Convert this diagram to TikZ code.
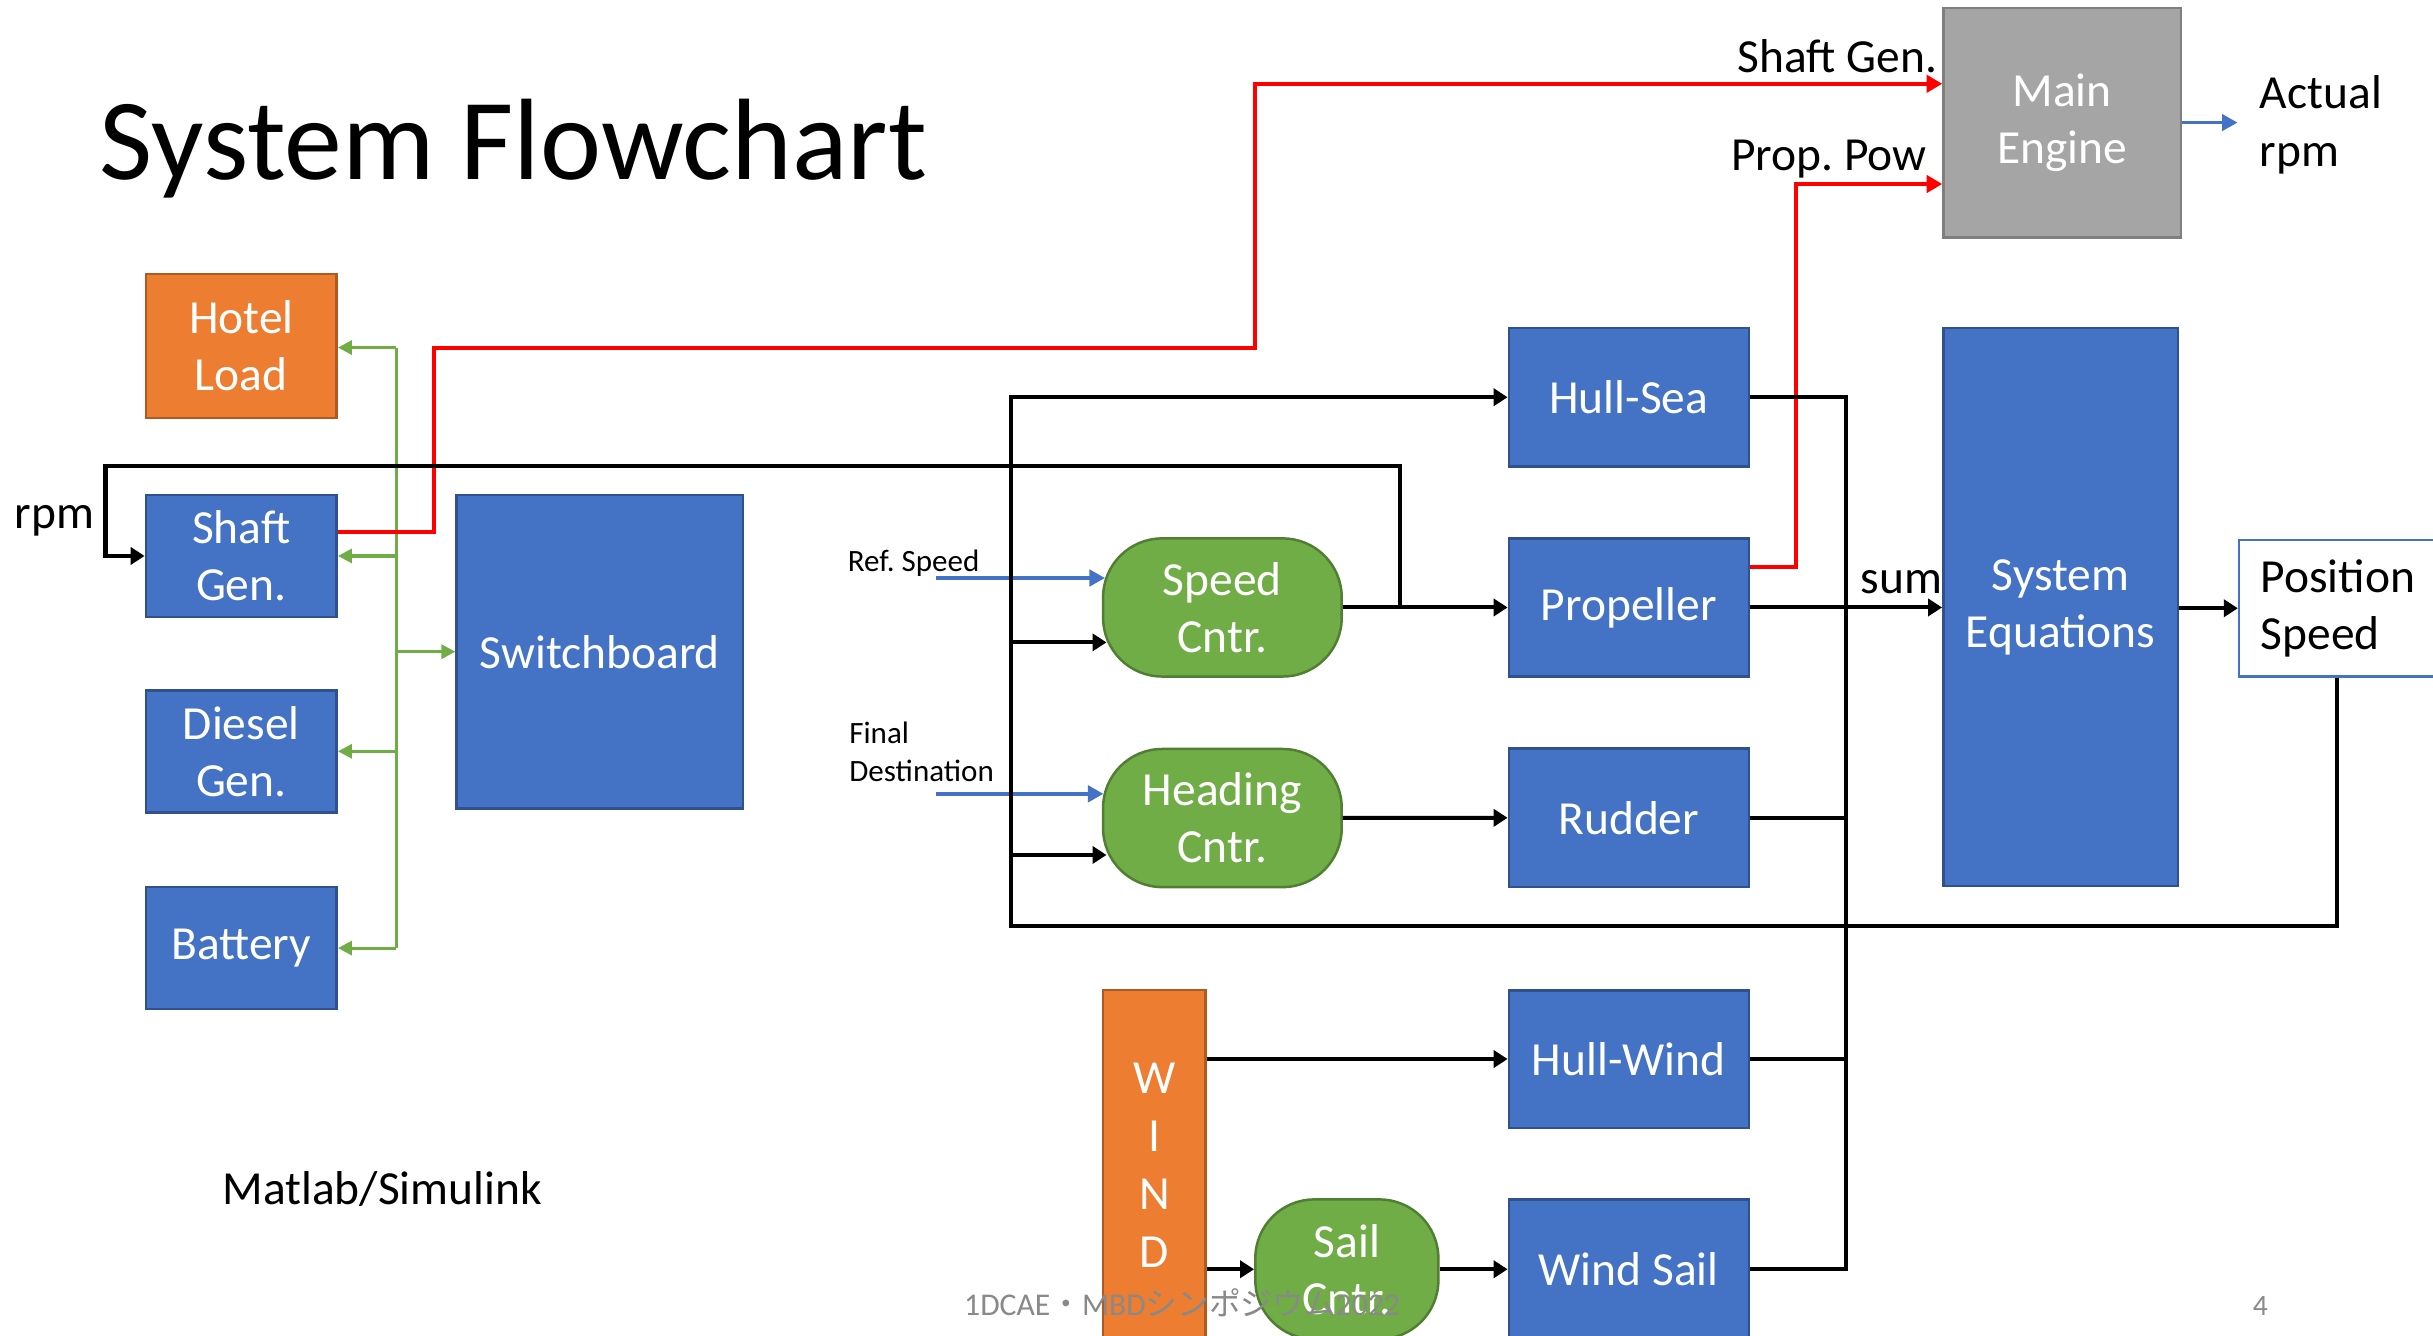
\documentclass[tikz,border=0pt]{standalone}
\usepackage{fontspec}
\setmainfont{Carlito}
\newfontfamily\jpfont{Noto Sans CJK JP}
\usepackage{tikz}
\usetikzlibrary{arrows.meta,calc}

\definecolor{blkblue}{HTML}{4472C4}
\definecolor{blkblueline}{HTML}{2F528F}
\definecolor{blkorange}{HTML}{ED7D31}
\definecolor{blkorangeline}{HTML}{AE5A21}
\definecolor{blkgreen}{HTML}{70AD47}
\definecolor{blkgreenline}{HTML}{507E32}
\definecolor{blkgray}{HTML}{A5A5A5}
\definecolor{blkgrayline}{HTML}{7F7F7F}
\definecolor{footgray}{HTML}{898989}

\begin{document}
\begin{tikzpicture}[x=0.5pt,y=0.5pt,yscale=-1,xscale=1,
    txt/.style={font=\fontsize{15.3pt}{18.4pt}\selectfont},
    smalltxt/.style={font=\fontsize{10pt}{12.25pt}\selectfont},
    blkbox/.style={txt, draw=blkblueline, fill=blkblue, line width=0.8pt, text=white, align=center, inner sep=0pt},
    orbox/.style={blkbox, draw=blkorangeline, fill=blkorange},
    graybox/.style={blkbox, draw=blkgrayline, fill=blkgray},
    cntrbox/.style={blkbox, draw=blkgreenline, fill=blkgreen, rounded corners=19pt},
    wire/.style={line width=1.3pt},
    arr/.style={wire, -{Triangle[length=4.5pt,width=5.5pt]}},
    rarr/.style={line width=1.3pt, red, -{Triangle[length=5pt,width=5.5pt]}},
    gwire/.style={line width=1pt, blkgreen},
    garr/.style={gwire, -{Triangle[length=4.5pt,width=4.5pt]}},
    barr/.style={line width=1.1pt, blkblue, -{Triangle[length=5pt,width=5.3pt]}}]

\useasboundingbox (0,0) rectangle (1568,861);
\clip (0,0) rectangle (1568,861);

% Text Node
\draw (64,115.6) node [anchor=base west, inner sep=0pt, font=\fontsize{37.3pt}{44pt}\selectfont] (title) {System Flowchart};

%Shape: Rectangle (power side)
\draw (155.5,223) node [orbox, minimum width=61.5pt, minimum height=46.5pt] (hotel) {Hotel\\Load};
\draw (155.5,358.3) node [blkbox, minimum width=61.5pt, minimum height=39.3pt] (shaft) {Shaft\\Gen.};
\draw (155.5,484.2) node [blkbox, minimum width=61.5pt, minimum height=39.3pt] (diesel) {Diesel\\Gen.};
\draw (155.5,611) node [blkbox, minimum width=61.5pt, minimum height=39.3pt] (battery) {Battery};
\draw (386.6,420) node [blkbox, minimum width=92.3pt, minimum height=101pt] (switchb) {Switchboard};

%Shape: Rectangle (engine)
\draw (1329,79) node [graybox, minimum width=76.5pt, minimum height=74pt] (me) {Main\\Engine};

%Shape: Rectangle (ship model)
\draw (1049.7,256) node [blkbox, minimum width=77.3pt, minimum height=44.6pt] (hullsea) {Hull-Sea};
\draw (1049.7,391.5) node [blkbox, minimum width=77.3pt, minimum height=44.5pt] (prop) {Propeller};
\draw (1049.7,527) node [blkbox, minimum width=77.3pt, minimum height=44.5pt] (rudder) {Rudder};
\draw (1049.7,682.5) node [blkbox, minimum width=77.3pt, minimum height=44.3pt] (hullwind) {Hull-Wind};
\draw (1049.7,818) node [blkbox, minimum width=77.3pt, minimum height=45pt] (windsail) {Wind Sail};
\draw (1328,391.3) node [blkbox, minimum width=75.6pt, minimum height=179.8pt] (syseq) {System\\Equations};
\draw (1527,392) node [txt, draw=blkblue, fill=white, line width=0.8pt, align=left, inner xsep=7pt, inner ysep=0pt, text width=70pt, minimum height=44pt] (pos) {Position\\Speed};

%Shape: Rounded Rect (controllers)
\draw (787.8,391.5) node [cntrbox, minimum width=76.9pt, minimum height=44.5pt] (speedc) {Speed\\Cntr.};
\draw (787.8,527.2) node [cntrbox, minimum width=76.9pt, minimum height=44.5pt] (headc) {Heading\\Cntr.};
\draw (868,818) node [cntrbox, minimum width=59pt, minimum height=45pt] (sailc) {Sail\\Cntr.};

%Shape: Rectangle (wind)
\draw (744,751) node [orbox, minimum width=33pt, minimum height=113pt, font=\fontsize{15.3pt}{18.6pt}\selectfont] (wind) {W\\I\\N\\D};

% Text Node
\draw (9,340.6) node [txt, anchor=base west, inner sep=0pt] (rpmlbl) {rpm};
% Text Node
\draw (1249,46.6) node [txt, anchor=base east, inner sep=0pt] (sglbl) {Shaft Gen.};
% Text Node
\draw (1242,110) node [txt, anchor=base east, inner sep=0pt] (pplbl) {Prop.\ Pow};
% Text Node
\draw (1456,107) node [txt, anchor=base west, inner sep=0pt, align=left] (actlbl) {Actual\\rpm};
% Text Node
\draw (546,368.5) node [smalltxt, anchor=base west, inner sep=0pt] (reflbl) {Ref.\ Speed};
% Text Node
\draw (547,503.5) node [smalltxt, anchor=base west, inner sep=0pt, align=left] (destlbl) {Final\\Destination};
% Text Node
\draw (1198.7,382.4) node [txt, anchor=base west, inner sep=0pt] (sumlbl) {sum};
% Text Node
\draw (143,776) node [txt, anchor=base west, inner sep=0pt] (toollbl) {Matlab/Simulink};

%Straight Lines (electric bus)
\coordinate (bt) at (255.5,224);
\coordinate (bb) at (255.5,611);
\draw [gwire] (bt) -- (bb);
\draw [garr] (bt) -- (hotel.east |- bt);
\draw [garr] (bt |- shaft) -- (shaft);
\draw [garr] (bt |- switchb) -- (switchb);
\draw [garr] (bt |- diesel) -- (diesel);
\draw [garr] (bb) -- (battery);

%Straight Lines (power to engine)
\draw [rarr] (shaft.east |- 0,343) -| (279.5,224) -| (808.8,54) -- (me.west |- 0,54);
\draw [rarr] (prop.east |- 0,365.4) -| (1157.4,118.6) -- (me.west |- 0,118.6);

%Straight Lines (engine out, references)
\coordinate (rpmout) at (1442,79);
\draw [barr] (me.east |- rpmout) -- (rpmout);
\coordinate (refin) at (603,372.5);
\draw [barr] (refin) -- ($(speedc.west |- refin)+(2,0)$);
\coordinate (destin) at (603,511.6);
\draw [barr] (destin) -- ($(headc.west |- destin)+(1,0)$);

%Straight Lines (control loop)
\coordinate (rj) at (902,391.5);
\coordinate (lb) at (651.5,597);
\coordinate (fb) at (1506,597);
\draw [arr] (speedc) -- (prop);
\draw [arr] (headc) -- (rudder);
\draw [arr] (rj) |- (68,300.5) |- (shaft);
\draw [arr] (pos.south -| fb) -- (fb) -- (lb) |- (hullsea);
\draw [arr] (lb |- 0,414) -- ($(speedc.west |- 0,414)+(3,0)$);
\draw [arr] (lb |- 0,551) -- ($(headc.west |- 0,551)+(3,0)$);

%Straight Lines (forces sum)
\coordinate (ct) at (1189.5,256);
\coordinate (cb) at (1189.5,818);
\draw [wire] (hullsea) -- (ct) -- (cb) -- (windsail);
\draw [wire] (rudder) -- (rudder -| ct);
\draw [wire] (hullwind) -- (hullwind -| ct);
\draw [arr] (prop.east) -- (prop.east -| syseq.west);
\draw [arr] (syseq.east |- pos) -- (pos);

%Straight Lines (wind)
\draw [arr] (wind.east |- hullwind) -- (hullwind);
\draw [arr] (wind.east |- sailc) -- (sailc);
\draw [arr] (sailc) -- (windsail);

% Text Node
\draw (621,847.5) node [anchor=base west, inner sep=0pt, text=footgray, font=\fontsize{10.2pt}{12pt}\selectfont] (footer) {1DCAE{\jpfont ・}MBD{\jpfont シンポジウム}2022};
% Text Node
\draw (1451.5,847.5) node [anchor=base west, inner sep=0pt, text=footgray, font=\fontsize{9.5pt}{12pt}\selectfont] (pageno) {4};

\end{tikzpicture}
\end{document}
